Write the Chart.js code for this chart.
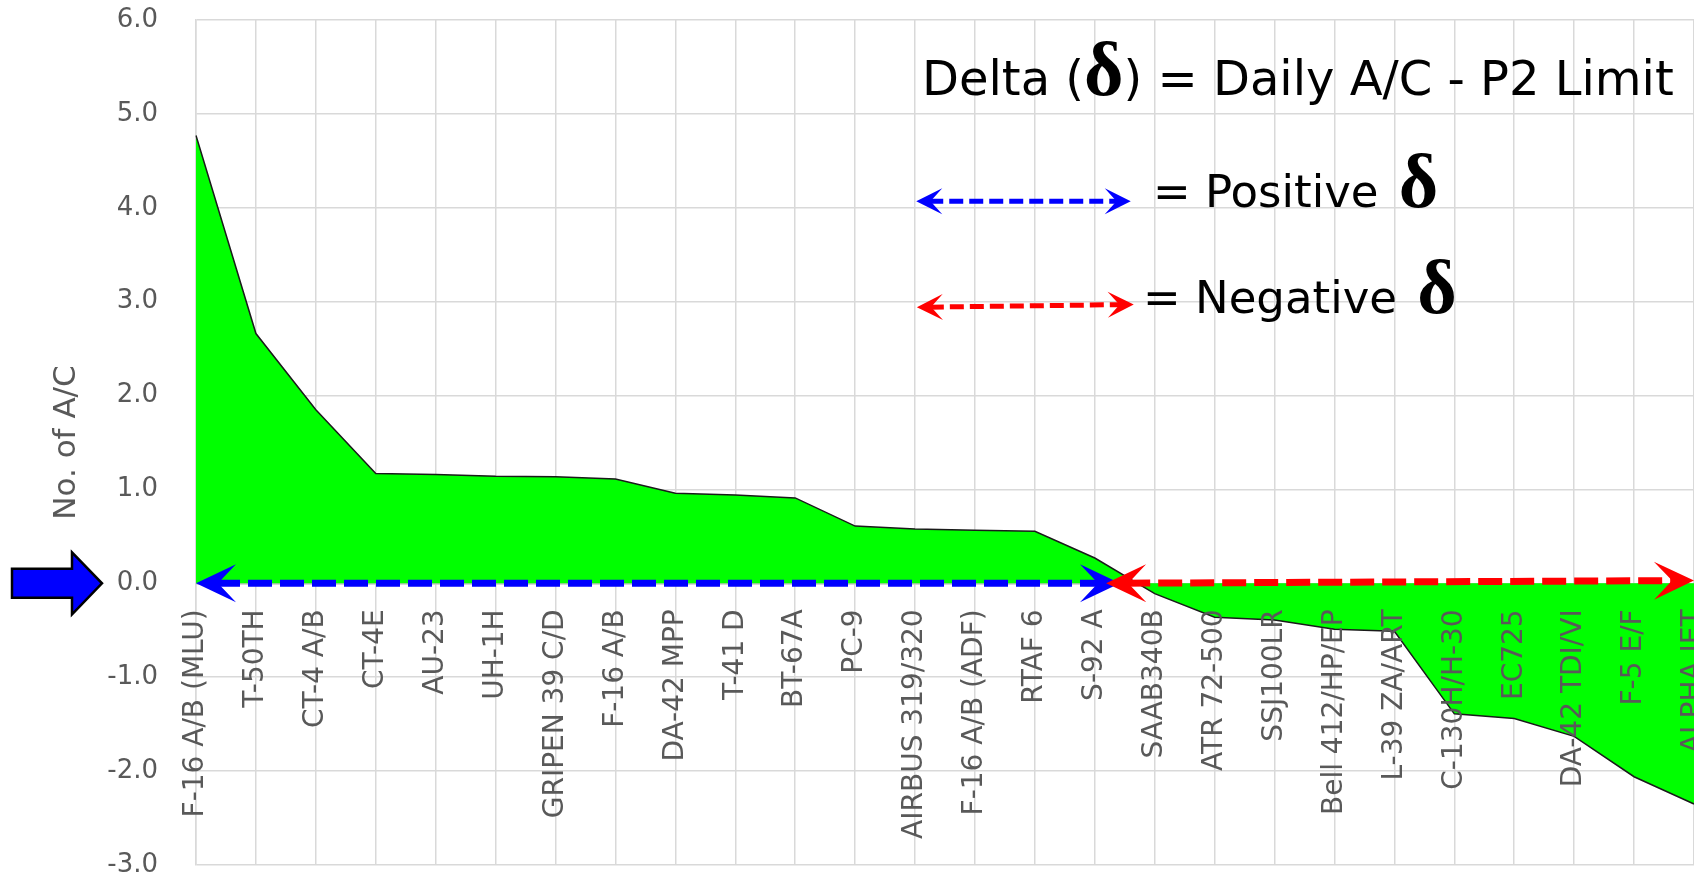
<!DOCTYPE html>
<html lang="en">
<head>
  <meta charset="UTF-8">
  <title>Delta (δ) = Daily A/C - P2 Limit</title>
  <script src="https://cdn.jsdelivr.net/npm/chart.js"></script>
  <style>
    html, body { margin: 0; padding: 0; background: #fff; overflow: hidden; }
    .wrap { position: relative; width: 1720px; height: 881px; }
    .note {
      position: absolute;
      font-family: "DejaVu Sans", sans-serif;
      color: #000;
      white-space: nowrap;
      line-height: 1;
    }
    .d { font-family: "Liberation Serif", serif; font-weight: bold; line-height: 0; }
  </style>
</head>
<body>
  <div class="wrap">
    <canvas id="chart"></canvas>
    <div class="note" style="left:922px; top:54px; font-size:48px;">Delta (<span class="d" style="font-size:76px;">δ</span>) = Daily A/C - P2 Limit</div>
    <div class="note" style="left:1153px; top:169px; font-size:45px;">= Positive <span class="d" style="font-size:76px; margin-left:6px;">δ</span></div>
    <div class="note" style="left:1143px; top:275px; font-size:45px;">= Negative <span class="d" style="font-size:76px; margin-left:6px;">δ</span></div>
  </div>

  <script>
    const aircraft = [
      "F-16 A/B (MLU)", "T-50TH", "CT-4 A/B", "CT-4E", "AU-23", "UH-1H", "GRIPEN 39 C/D",
      "F-16 A/B", "DA-42 MPP", "T-41 D", "BT-67A", "PC-9", "AIRBUS 319/320", "F-16 A/B (ADF)",
      "RTAF 6", "S-92 A", "SAAB340B", "ATR 72-500", "SSJ100LR", "Bell 412/HP/EP", "L-39 ZA/ART",
      "C-130H/H-30", "EC725", "DA-42 TDI/VI", "F-5 E/F", "ALPHA JET"
    ];
    const delta = [
      4.77, 2.66, 1.85, 1.17, 1.16, 1.14, 1.135,
      1.11, 0.96, 0.94, 0.91, 0.61, 0.58, 0.565,
      0.555, 0.27, -0.11, -0.36, -0.39, -0.49, -0.51,
      -1.39, -1.44, -1.63, -2.06, -2.35
    ];
    const yMin = -3;
    const yMax = 6;

    const axisFont = '"DejaVu Sans", sans-serif';
    const gray = "#595959";
    const gridColor = "#d9d9d9";

    // stealth-style arrow head, tip at (tx, ty) pointing along (c, s)
    function arrowHead(ctx, tx, ty, c, s, len, half) {
      const bx = tx - c * len, by = ty - s * len;
      const nx = tx - c * len * 0.55, ny = ty - s * len * 0.55;
      ctx.beginPath();
      ctx.moveTo(tx, ty);
      ctx.lineTo(bx - s * half, by + c * half);
      ctx.lineTo(nx, ny);
      ctx.lineTo(bx + s * half, by - c * half);
      ctx.closePath();
      ctx.fill();
    }

    function dashedArrow(ctx, x1, y1, x2, y2, color, width, dash, len, half) {
      const a = Math.atan2(y2 - y1, x2 - x1);
      const c = Math.cos(a), s = Math.sin(a);
      ctx.save();
      ctx.strokeStyle = color;
      ctx.fillStyle = color;
      ctx.lineWidth = width;
      ctx.setLineDash(dash);
      ctx.beginPath();
      ctx.moveTo(x1 + c * len * 0.5, y1 + s * len * 0.5);
      ctx.lineTo(x2 - c * len * 0.5, y2 - s * len * 0.5);
      ctx.stroke();
      ctx.setLineDash([]);
      arrowHead(ctx, x1, y1, -c, -s, len, half);
      arrowHead(ctx, x2, y2, c, s, len, half);
      ctx.restore();
    }

    const deltaArrows = {
      id: "deltaArrows",
      afterDatasetsDraw(chart) {
        const { ctx, chartArea, scales: { x, y } } = chart;
        const y0 = y.getPixelForValue(0);

        // positive / negative spans along the zero line
        dashedArrow(ctx, x.getPixelForValue(0), y0, x.getPixelForValue(15.42), y0, "#0000ff", 7, [24, 8], 40, 19);
        dashedArrow(ctx, x.getPixelForValue(15.19), y0, x.getPixelForValue(25), y.getPixelForValue(0.03), "#ff0000", 7, [24, 8], 40, 19);

        // key arrows
        dashedArrow(ctx, x.getPixelForValue(12.02), y.getPixelForValue(4.07), x.getPixelForValue(15.6), y.getPixelForValue(4.07), "#0000ff", 5, [14, 6], 26, 13);
        dashedArrow(ctx, x.getPixelForValue(12.03), y.getPixelForValue(2.94), x.getPixelForValue(15.65), y.getPixelForValue(2.97), "#ff0000", 5, [14, 6], 26, 13);

        // block arrow pointing at 0.0
        const L = chartArea.left;
        ctx.save();
        ctx.beginPath();
        ctx.moveTo(L - 184, y0 - 14.5);
        ctx.lineTo(L - 124, y0 - 14.5);
        ctx.lineTo(L - 124, y0 - 31);
        ctx.lineTo(L - 94, y0);
        ctx.lineTo(L - 124, y0 + 31);
        ctx.lineTo(L - 124, y0 + 14.5);
        ctx.lineTo(L - 184, y0 + 14.5);
        ctx.closePath();
        ctx.fillStyle = "#0000ff";
        ctx.fill();
        ctx.lineWidth = 2.5;
        ctx.strokeStyle = "#000";
        ctx.stroke();
        ctx.restore();
      }
    };

    new Chart(document.getElementById("chart").getContext("2d"), {
      type: "line",
      data: {
        labels: aircraft,
        datasets: [{
          label: "Delta",
          data: delta,
          fill: "origin",
          backgroundColor: "#00ff00",
          borderColor: "#1a1a1a",
          borderWidth: 1.5,
          pointRadius: 0,
          tension: 0
        }]
      },
      options: {
        responsive: true,
        maintainAspectRatio: false,
        animation: false,
        layout: { padding: { left: 0, right: 26, top: 20, bottom: 16 } },
        plugins: { legend: { display: false }, tooltip: { enabled: false } },
        scales: {
          x: {
            position: { y: 0 },
            offset: false,
            grid: { color: gridColor, lineWidth: 1.5, drawTicks: false },
            border: { color: "#bfbfbf", width: 1.5 },
            ticks: {
              z: 1, // labels sit on top of the green area, as in Excel
              autoSkip: false,
              minRotation: 90,
              maxRotation: 90,
              padding: 26,
              color: gray,
              font: { family: axisFont, size: 28 }
            },
            afterFit: scale => { scale.paddingLeft = 0; scale.paddingRight = 0; }
          },
          y: {
            min: yMin,
            max: yMax,
            grid: { color: gridColor, lineWidth: 1.5, drawTicks: false },
            border: { color: gridColor, width: 1.5 },
            ticks: {
              stepSize: 1,
              padding: 38,
              color: gray,
              font: { family: axisFont, size: 26 },
              callback: v => v.toFixed(1)
            },
            title: {
              display: true,
              text: "No. of A/C",
              color: gray,
              font: { family: axisFont, size: 31 },
              padding: { top: 48, bottom: 0 }
            },
            afterFit: scale => {
              scale.width = 196;
              scale.paddingTop = 0;
              scale.paddingBottom = 0;
            }
          }
        }
      },
      plugins: [deltaArrows]
    });
  </script>
</body>
</html>
